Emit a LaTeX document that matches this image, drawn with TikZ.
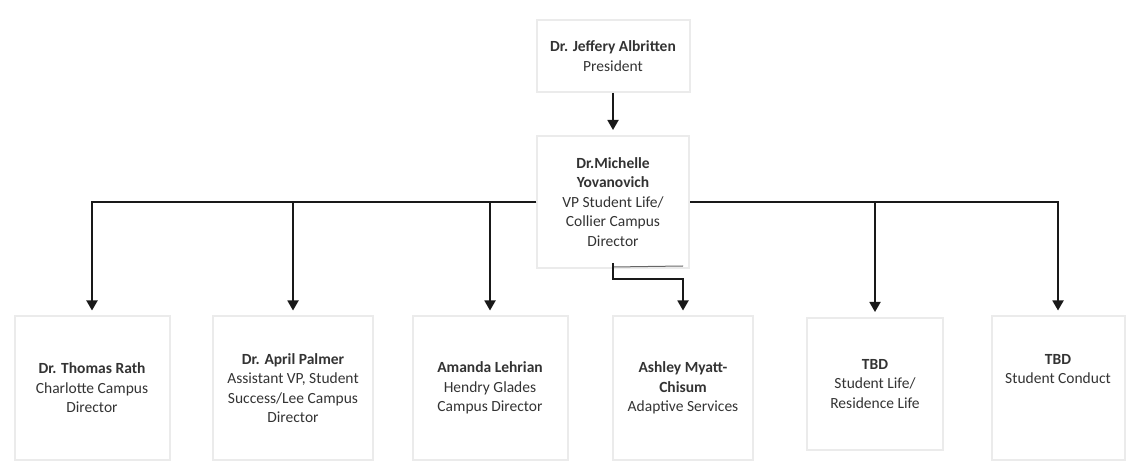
\documentclass[tikz,border=0pt]{standalone}
\usepackage{fontspec}
\setmainfont{Carlito}
\usetikzlibrary{arrows.meta}
\begin{document}
\begin{tikzpicture}[x=1pt,y=-1pt,
  card/.style={draw=black!8,line width=2pt,align=center,text=black!80,
    font=\fontsize{15.5}{19.5}\selectfont,inner sep=0pt},
  link/.style={draw=black!90,line width=1.8pt,
    -{Triangle[width=11pt,length=10pt]},shorten >=5pt}]
\useasboundingbox (0,0) rectangle (1127,470);

\node[card,minimum width=153pt,minimum height=72pt] (pres) at (613,56)
  {\textbf{Dr. Jeffery Albritten}\\President};
\node[card,minimum width=152pt,minimum height=132pt] (vp) at (613,202)
  {\textbf{Dr.Michelle}\\\textbf{Yovanovich}\\VP Student Life/\\Collier Campus\\Director};

\node[card,minimum width=155pt,minimum height=143pt] (b1) at (92,388)
  {\textbf{Dr. Thomas Rath}\\Charlotte Campus\\Director};
\node[card,minimum width=160pt,minimum height=143pt] (b2) at (293,388)
  {\textbf{Dr. April Palmer}\\Assistant VP, Student\\Success/Lee Campus\\Director};
\node[card,minimum width=155pt,minimum height=143pt] (b3) at (490,388)
  {\textbf{Amanda Lehrian}\\Hendry Glades\\Campus Director};
\node[card,minimum width=140pt,minimum height=143pt] (b4) at (683,388)
  {\textbf{Ashley Myatt-}\\\textbf{Chisum}\\Adaptive Services};
\node[card,minimum width=136pt,minimum height=132pt] (b5) at (875,384)
  {\textbf{TBD}\\Student Life/\\Residence Life};
\node[card,minimum width=133pt,minimum height=143pt] (b6) at (1058,388)
  {\textbf{TBD}\\Student Conduct\\[19pt]};

% reporting lines
\draw[link] (pres.south) -- (vp.north);
\draw[link] (vp.west) -| (b1.north);
\draw[link] (vp.west) -| (b2.north);
\draw[link] (vp.west) -| (b3.north);
\draw[link] (vp.east) -| (b5.north);
\draw[link] (vp.east) -| (b6.north);
\draw[black!60,line width=1pt] (vp.south) ++(0,-2) -- (b4.north |- {(0,266)});
\draw[link] (vp.south) ++(0,-6) -- ++(0,16) -| (b4.north);
\end{tikzpicture}
\end{document}
